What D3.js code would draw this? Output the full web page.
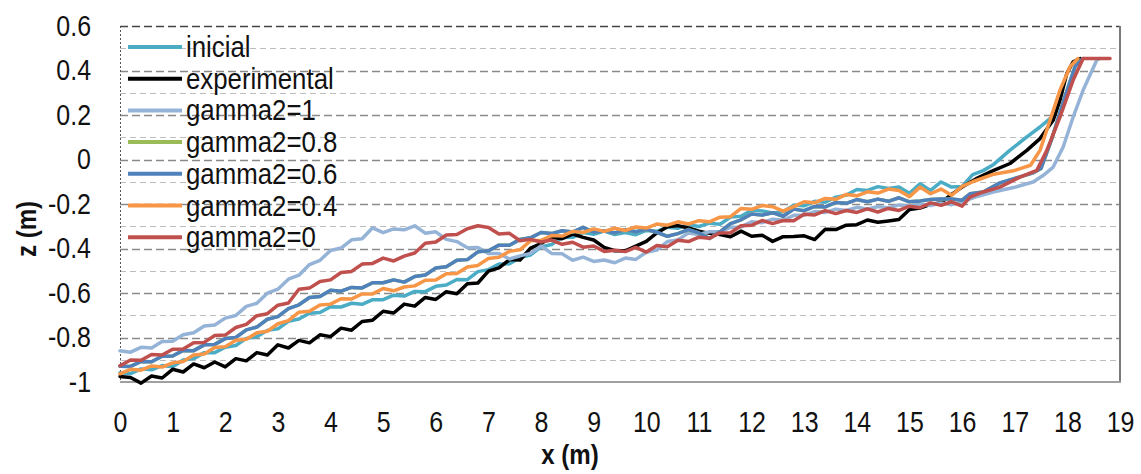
<!DOCTYPE html>
<html>
<head>
<meta charset="utf-8">
<script src="https://cdn.jsdelivr.net/npm/d3@7"></script>
<style>
  body { margin: 0; background: #fff; }
  svg { display: block; }
  text { font-family: "Liberation Sans", Arial, sans-serif; fill: #111; }
</style>
</head>
<body>
<svg id="chart" width="1141" height="474"></svg>
<script>
// Sampling positions along the flume (m), shared by the profile arrays below
const xGrid = [0,0.2,0.4,0.6,0.8,1,1.2,1.4,1.6,1.8,
  2,2.2,2.4,2.6,2.8,3,3.2,3.4,3.6,3.8,
  4,4.2,4.4,4.6,4.8,5,5.2,5.4,5.6,5.8,
  6,6.2,6.4,6.6,6.8,7,7.2,7.4,7.6,7.8,
  8,8.2,8.4,8.6,8.8,9,9.2,9.4,9.6,9.8,
  10,10.2,10.4,10.6,10.8,11,11.2,11.4,11.6,11.8,
  12,12.2,12.4,12.6,12.8,13,13.2,13.4,13.6,13.8,
  14,14.2,14.4,14.6,14.8,15,15.2,15.4,15.6,15.8,
  16];

// Bed elevation z (m) at each xGrid position
const inicial = [-0.959,-0.962,-0.941,-0.945,-0.926,-0.931,-0.901,-0.895,-0.868,-0.868,
  -0.844,-0.836,-0.804,-0.797,-0.768,-0.761,-0.727,-0.717,-0.691,-0.688,
  -0.662,-0.663,-0.646,-0.651,-0.63,-0.63,-0.61,-0.614,-0.593,-0.594,
  -0.57,-0.564,-0.539,-0.54,-0.504,-0.495,-0.47,-0.469,-0.441,-0.429,
  -0.393,-0.382,-0.351,-0.35,-0.328,-0.336,-0.322,-0.337,-0.328,-0.338,
  -0.319,-0.323,-0.304,-0.309,-0.293,-0.301,-0.286,-0.291,-0.259,-0.255,
  -0.228,-0.231,-0.24,-0.235,-0.206,-0.208,-0.188,-0.192,-0.169,-0.16,
  -0.135,-0.139,-0.122,-0.13,-0.124,-0.152,-0.109,-0.139,-0.101,-0.124,
  -0.121];
const experimental = [-0.975,-0.98,-1.005,-0.973,-0.982,-0.943,-0.955,-0.919,-0.936,-0.91,
  -0.932,-0.895,-0.905,-0.868,-0.879,-0.833,-0.847,-0.813,-0.824,-0.788,
  -0.796,-0.758,-0.767,-0.728,-0.722,-0.682,-0.69,-0.65,-0.659,-0.62,
  -0.629,-0.594,-0.603,-0.558,-0.555,-0.502,-0.487,-0.45,-0.452,-0.398,
  -0.378,-0.349,-0.356,-0.335,-0.35,-0.362,-0.395,-0.41,-0.41,-0.389,
  -0.368,-0.33,-0.302,-0.297,-0.308,-0.322,-0.332,-0.337,-0.347,-0.322,
  -0.345,-0.34,-0.368,-0.347,-0.346,-0.343,-0.36,-0.314,-0.315,-0.295,
  -0.293,-0.272,-0.282,-0.276,-0.27,-0.225,-0.218,-0.202,-0.194,-0.157,
  -0.124];
const gamma1 = [-0.86,-0.866,-0.844,-0.847,-0.818,-0.817,-0.788,-0.779,-0.748,-0.744,
  -0.713,-0.701,-0.66,-0.646,-0.601,-0.583,-0.538,-0.52,-0.472,-0.453,
  -0.409,-0.398,-0.361,-0.356,-0.307,-0.329,-0.312,-0.316,-0.298,-0.331,
  -0.325,-0.359,-0.369,-0.397,-0.396,-0.422,-0.423,-0.447,-0.433,-0.422,
  -0.389,-0.422,-0.424,-0.453,-0.439,-0.458,-0.452,-0.464,-0.443,-0.449,
  -0.417,-0.407,-0.369,-0.362,-0.33,-0.337,-0.325,-0.325,-0.305,-0.303,
  -0.28,-0.284,-0.268,-0.273,-0.251,-0.25,-0.234,-0.238,-0.223,-0.229,
  -0.215,-0.223,-0.211,-0.218,-0.204,-0.21,-0.199,-0.207,-0.195,-0.203,
  -0.19];
const gamma08 = [-0.929,-0.93,-0.908,-0.909,-0.884,-0.883,-0.858,-0.859,-0.833,-0.831,
  -0.805,-0.8,-0.766,-0.753,-0.718,-0.706,-0.67,-0.653,-0.62,-0.616,
  -0.588,-0.592,-0.575,-0.577,-0.554,-0.554,-0.541,-0.551,-0.526,-0.519,
  -0.488,-0.482,-0.453,-0.45,-0.415,-0.41,-0.385,-0.385,-0.359,-0.352,
  -0.328,-0.333,-0.32,-0.326,-0.305,-0.327,-0.32,-0.33,-0.315,-0.325,
  -0.314,-0.327,-0.345,-0.333,-0.315,-0.33,-0.355,-0.325,-0.288,-0.271,
  -0.245,-0.25,-0.239,-0.255,-0.223,-0.23,-0.211,-0.213,-0.193,-0.197,
  -0.18,-0.19,-0.178,-0.188,-0.172,-0.19,-0.186,-0.18,-0.177,-0.177,
  -0.183];
const gamma06 = [-0.929,-0.93,-0.908,-0.909,-0.884,-0.883,-0.858,-0.859,-0.833,-0.831,
  -0.805,-0.8,-0.766,-0.753,-0.718,-0.706,-0.67,-0.653,-0.62,-0.616,
  -0.588,-0.592,-0.575,-0.577,-0.554,-0.554,-0.541,-0.551,-0.526,-0.519,
  -0.488,-0.482,-0.453,-0.45,-0.415,-0.41,-0.385,-0.385,-0.359,-0.352,
  -0.328,-0.333,-0.32,-0.326,-0.305,-0.327,-0.32,-0.33,-0.315,-0.325,
  -0.314,-0.327,-0.345,-0.333,-0.315,-0.33,-0.355,-0.325,-0.288,-0.271,
  -0.245,-0.25,-0.239,-0.255,-0.223,-0.23,-0.211,-0.213,-0.193,-0.197,
  -0.18,-0.19,-0.178,-0.188,-0.172,-0.19,-0.186,-0.18,-0.177,-0.177,
  -0.183];
const gamma04 = [-0.963,-0.943,-0.947,-0.928,-0.933,-0.914,-0.908,-0.879,-0.874,-0.845,
  -0.841,-0.812,-0.808,-0.779,-0.772,-0.738,-0.724,-0.686,-0.682,-0.654,
  -0.65,-0.626,-0.627,-0.604,-0.604,-0.58,-0.59,-0.573,-0.568,-0.543,
  -0.542,-0.513,-0.512,-0.483,-0.476,-0.445,-0.439,-0.413,-0.406,-0.365,
  -0.363,-0.342,-0.344,-0.323,-0.328,-0.312,-0.323,-0.309,-0.319,-0.303,
  -0.308,-0.29,-0.295,-0.28,-0.29,-0.275,-0.28,-0.259,-0.257,-0.22,
  -0.224,-0.207,-0.212,-0.232,-0.212,-0.19,-0.194,-0.175,-0.179,-0.157,
  -0.163,-0.145,-0.151,-0.133,-0.139,-0.167,-0.124,-0.154,-0.133,-0.161,
  -0.121];
const gamma0 = [-0.927,-0.901,-0.902,-0.876,-0.879,-0.853,-0.852,-0.824,-0.822,-0.791,
  -0.789,-0.755,-0.741,-0.702,-0.693,-0.655,-0.645,-0.583,-0.578,-0.548,
  -0.541,-0.508,-0.503,-0.47,-0.467,-0.443,-0.456,-0.434,-0.42,-0.376,
  -0.371,-0.339,-0.337,-0.311,-0.298,-0.306,-0.335,-0.332,-0.365,-0.359,
  -0.371,-0.362,-0.381,-0.372,-0.394,-0.389,-0.413,-0.408,-0.414,-0.395,
  -0.416,-0.387,-0.392,-0.363,-0.369,-0.349,-0.354,-0.33,-0.329,-0.298,
  -0.296,-0.274,-0.288,-0.274,-0.275,-0.246,-0.249,-0.23,-0.243,-0.229,
  -0.238,-0.222,-0.236,-0.22,-0.229,-0.21,-0.217,-0.195,-0.206,-0.19,
  -0.21];

// Swash / berm part of each profile, as [x, z] pairs beyond x = 16 m
const inicialTail = [[16.2,-0.068],[16.4,-0.05],[16.6,-0.022],[16.9,0.04],[17.2,0.096],[17.48,0.146],[17.67,0.184]];
const experimentalTail = [[16.27,-0.086],[16.59,-0.05],[16.91,-0.018],[17.23,0.041],[17.48,0.094],[17.73,0.176],[17.86,0.267],[17.99,0.387],[18.11,0.439],[18.24,0.454]];
const gamma1Tail = [[16.3,-0.165],[16.59,-0.146],[17.0,-0.125],[17.35,-0.101],[17.55,-0.07],[17.73,-0.034],[17.92,0.056],[18.11,0.191],[18.3,0.312],[18.56,0.447],[18.62,0.454]];
const gamma08Tail = [[16.15,-0.154],[16.4,-0.146],[16.72,-0.105],[17.0,-0.085],[17.35,-0.06],[17.5,-0.04],[17.7,0.09],[17.95,0.28],[18.15,0.42],[18.3,0.454]];
const gamma06Tail = [[16.15,-0.154],[16.4,-0.146],[16.72,-0.105],[17.0,-0.085],[17.35,-0.06],[17.5,-0.04],[17.7,0.09],[17.95,0.28],[18.15,0.42],[18.3,0.454]];
const gamma04Tail = [[16.2,-0.1],[16.6,-0.066],[17.0,-0.049],[17.3,-0.026],[17.48,0.041],[17.67,0.176],[17.86,0.312],[18.05,0.417],[18.2,0.454]];
const gamma0Tail = [[16.15,-0.169],[16.4,-0.146],[16.72,-0.124],[17.1,-0.079],[17.42,-0.049],[17.61,0.041],[17.86,0.191],[18.11,0.357],[18.3,0.454],[18.81,0.454]];

const seriesNames = ["inicial", "experimental", "gamma2=1", "gamma2=0.8", "gamma2=0.6", "gamma2=0.4", "gamma2=0"];
const seriesValues = [inicial, experimental, gamma1, gamma08, gamma06, gamma04, gamma0];
const seriesTails = [inicialTail, experimentalTail, gamma1Tail, gamma08Tail, gamma06Tail, gamma04Tail, gamma0Tail];
const seriesColors = ["#4bacc6", "#000000", "#95b3d7", "#9bbb59", "#4f81bd", "#f79646", "#c0504d"];

const xTicks = [0,1,2,3,4,5,6,7,8,9,10,11,12,13,14,15,16,17,18,19];
const yTicks = [0.6,0.4,0.2,0,-0.2,-0.4,-0.6,-0.8,-1];
const yTickLabels = ["0.6","0.4","0.2","0","-0.2","-0.4","-0.6","-0.8","-1"];
const yGrid = [0.5,0.4,0.3,0.2,0.1,0,-0.1,-0.2,-0.3,-0.4,-0.5,-0.6,-0.7,-0.8,-0.9];

// Layout
const plot = { left: 120, right: 1120, top: 26, bottom: 382 };
const svg = d3.select("#chart");

const x = d3.scaleLinear().domain([0, 19]).range([plot.left, plot.right]);
const y = d3.scaleLinear().domain([-1, 0.6]).range([plot.bottom, plot.top]);

// Condense text horizontally to a narrow face
function narrow(sel, k) {
  sel.each(function () {
    const w = this.getComputedTextLength();
    d3.select(this).attr("textLength", w * k).attr("lengthAdjust", "spacingAndGlyphs");
  });
}

// Horizontal dashed gridlines (darker on the labelled 0.2 steps)
const isMajor = d => Math.round(d * 10) % 2 === 0;
svg.append("g").selectAll("line").data(yGrid).join("line")
  .attr("x1", plot.left).attr("x2", plot.right)
  .attr("y1", d => Math.round(y(d)) + 0.5).attr("y2", d => Math.round(y(d)) + 0.5)
  .attr("stroke", d => isMajor(d) ? "#8a8a8a" : "#bdbdbd")
  .attr("stroke-width", d => isMajor(d) ? 1.3 : 1)
  .attr("stroke-dasharray", d => isMajor(d) ? "8,4" : "6,4");

// Plot frame
svg.append("line").attr("x1", plot.left).attr("x2", plot.right)
  .attr("y1", plot.top + 0.5).attr("y2", plot.top + 0.5)
  .attr("stroke", "#444").attr("stroke-width", 1.3).attr("stroke-dasharray", "8,4");
svg.append("line").attr("x1", plot.left + 0.5).attr("x2", plot.left + 0.5)
  .attr("y1", plot.top).attr("y2", plot.bottom)
  .attr("stroke", "#555").attr("stroke-width", 1).attr("stroke-dasharray", "2,2");
svg.append("line").attr("x1", plot.right).attr("x2", plot.right)
  .attr("y1", plot.top).attr("y2", plot.bottom + 1)
  .attr("stroke", "#7a7a7a").attr("stroke-width", 2);
svg.append("line").attr("x1", plot.left).attr("x2", plot.right + 1)
  .attr("y1", plot.bottom).attr("y2", plot.bottom)
  .attr("stroke", "#a0a0a0").attr("stroke-width", 2);

// Axes
const yAxis = svg.append("g")
  .attr("transform", `translate(${plot.left},0)`)
  .call(d3.axisLeft(y).tickValues(yTicks).tickSize(0).tickPadding(29)
    .tickFormat((d, i) => yTickLabels[i]));
yAxis.select(".domain").remove();
yAxis.selectAll("text").attr("font-size", 29).attr("fill", "#111")
  .attr("font-family", '"Liberation Sans", Arial, sans-serif');
narrow(yAxis.selectAll("text"), 0.86);

const xAxis = svg.append("g")
  .attr("transform", `translate(0,${plot.bottom})`)
  .call(d3.axisBottom(x).tickValues(xTicks).tickSize(0).tickPadding(29)
    .tickFormat(d3.format("d")));
xAxis.select(".domain").remove();
xAxis.selectAll("text").attr("font-size", 29).attr("fill", "#111")
  .attr("font-family", '"Liberation Sans", Arial, sans-serif');
narrow(xAxis.selectAll("text"), 0.86);

// Axis titles
const zTitle = svg.append("text")
  .attr("transform", "translate(36,229) rotate(-90)")
  .attr("text-anchor", "middle")
  .attr("font-size", 28).attr("font-weight", "bold")
  .text("z (m)");
const xTitle = svg.append("text")
  .attr("x", 570).attr("y", 464)
  .attr("text-anchor", "middle")
  .attr("font-size", 28).attr("font-weight", "bold")
  .text("x (m)");
narrow(zTitle, 0.86);
narrow(xTitle, 0.86);

// Profiles
const line = d3.line().x(d => x(d[0])).y(d => y(d[1]));
const profiles = seriesNames.map((name, i) => ({
  name,
  color: seriesColors[i],
  points: xGrid.map((xv, j) => [xv, seriesValues[i][j]]).concat(seriesTails[i])
}));

svg.append("g").selectAll("path").data(profiles).join("path")
  .attr("d", d => line(d.points))
  .attr("fill", "none")
  .attr("stroke", d => d.color)
  .attr("stroke-width", 3.5)
  .attr("stroke-linejoin", "round")
  .attr("stroke-linecap", "round");

// Legend
const legend = svg.append("g");
const rowGap = 31.7;
const legendRows = legend.selectAll("g").data(profiles).join("g")
  .attr("transform", (d, i) => `translate(0,${47 + i * rowGap})`);
legendRows.append("line")
  .attr("x1", 128).attr("x2", 182).attr("y1", 0).attr("y2", 0)
  .attr("stroke", d => d.color).attr("stroke-width", 4);
const legendText = legendRows.append("text")
  .attr("x", 186).attr("y", 10)
  .attr("font-size", 30)
  .text(d => d.name);
narrow(legendText, 0.86);
</script>
</body>
</html>
